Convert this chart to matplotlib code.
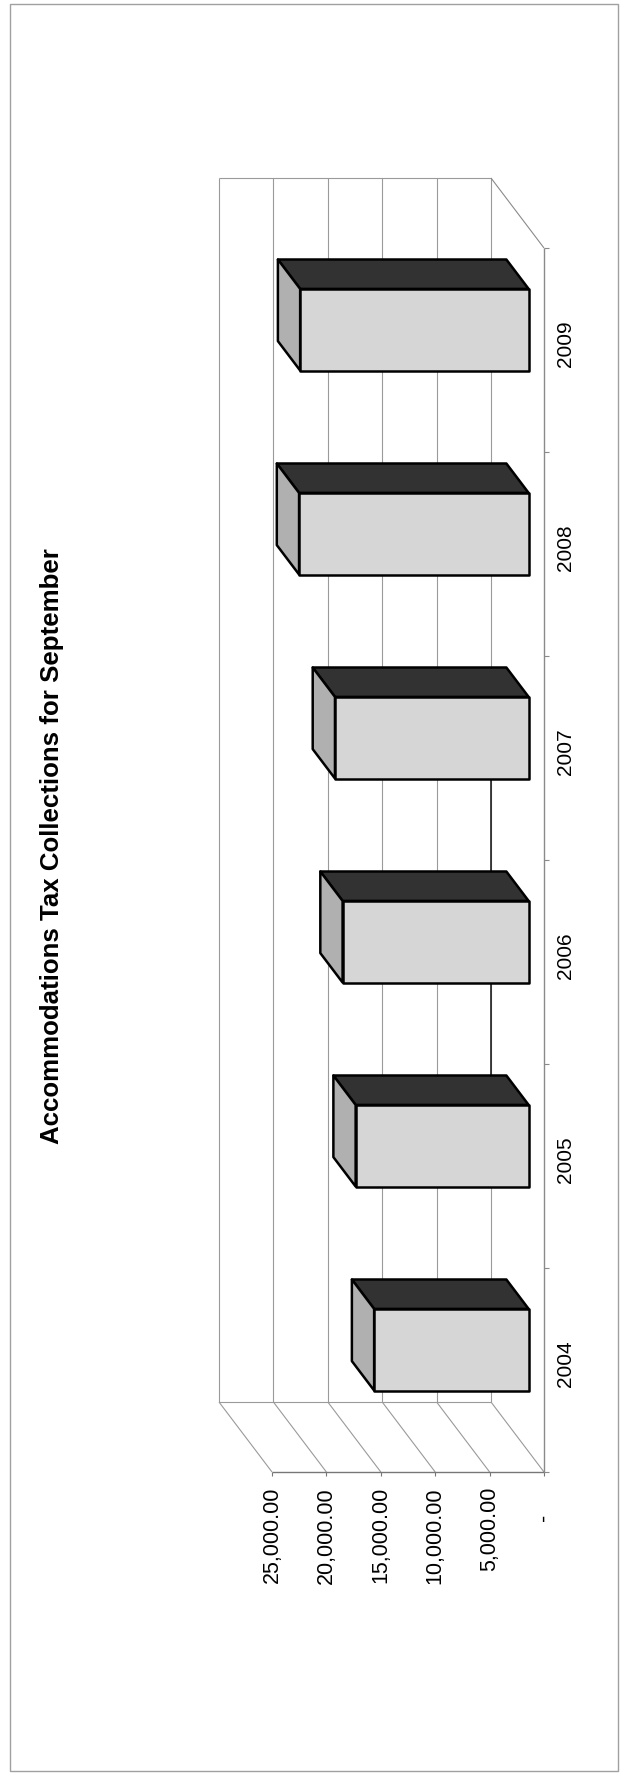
import matplotlib
matplotlib.use('Agg')
from matplotlib import pyplot as plt
from matplotlib.patches import Rectangle

# data
years = ['2004', '2005', '2006', '2007', '2008', '2009']
collections = [14200, 15900, 17100, 17800, 21100, 21000]
tick_values = [5000, 10000, 15000, 20000, 25000]
tick_labels = ['5,000.00', '10,000.00', '15,000.00', '20,000.00', '25,000.00']
title = 'Accommodations Tax Collections for September'

W, H = 621, 1775
plt.rcParams['font.family'] = ['Liberation Sans', 'DejaVu Sans']

# layout of the rotated 3d chart, in pixels
zero_px = 544          # value 0 on the front edge
px_per_unit = 54.4 / 5000
cat_bottom_py = 1472   # lower end of category axis (front)
px_per_cat = 204
depth_px = (53, 70)    # front -> back shift (left, up)

DV = depth_px[0] / px_per_unit
DC = depth_px[1] / px_per_cat
vmax = 25000
ncat = len(years)


def P(v, c, d):
    # value, category, depth (0 front, 1 back) -> data coords
    return v + d * DV, c + d * DC


fig = plt.figure(figsize=(W / 100, H / 100), dpi=100)
ax = fig.add_axes([0, 0, 1, 1])
ax.set_xlim(zero_px / px_per_unit, (zero_px - W) / px_per_unit)
ax.set_ylim(-0.5 - (H - cat_bottom_py) / px_per_cat, -0.5 + cat_bottom_py / px_per_cat)
ax.axis('off')

grid_c = '#9a9a9a'
lw_g = 0.8


def seg(a, b, **kw):
    ax.plot([a[0], b[0]], [a[1], b[1]], solid_capstyle='butt', **kw)


c0, c1 = -0.5, ncat - 0.5
# back wall grid + left wall grid
for v in [0] + tick_values:
    seg(P(v, c0, 1), P(v, c1, 1), color=grid_c, lw=lw_g, zorder=1)
    seg(P(v, c0, 0), P(v, c0, 1), color=grid_c, lw=lw_g, zorder=1)
    seg(P(v, c0, 0), P(v, c0 - 0.02, 0), color='#777777', lw=lw_g, zorder=1)
seg(P(0, 1, 1), P(0, 3, 1), color='#222222', lw=1.2, zorder=1)
seg(P(0, c1, 1), P(vmax, c1, 1), color=grid_c, lw=lw_g, zorder=1)
seg(P(0, c0, 1), P(vmax, c0, 1), color=grid_c, lw=lw_g, zorder=1)
seg(P(0, c0, 0), P(vmax, c0, 0), color='#777777', lw=1.0, zorder=1)
# floor
seg(P(0, c0, 0), P(0, c1, 0), color='#8a8a8a', lw=1.0, zorder=1)
seg(P(0, c1, 0), P(0, c1, 1), color='#8a8a8a', lw=lw_g, zorder=1)
for k in range(ncat + 1):
    seg(P(0, k - 0.5, 0), P(-450, k - 0.5, 0), color='#8a8a8a', lw=lw_g, zorder=1)

# bars
hw = 0.2
d0, d1 = 0.29, 0.71
ek = dict(edgecolor='black', linewidth=1.8, joinstyle='round', zorder=3)
for i, v in enumerate(collections):
    side = [P(0, i + hw, d0), P(v, i + hw, d0), P(v, i + hw, d1), P(0, i + hw, d1)]
    end = [P(v, i - hw, d0), P(v, i + hw, d0), P(v, i + hw, d1), P(v, i - hw, d1)]
    front = [P(0, i - hw, d0), P(v, i - hw, d0), P(v, i + hw, d0), P(0, i + hw, d0)]
    for poly, col in [(side, '#323232'), (end, '#b0b0b0'), (front, '#d6d6d6')]:
        xs, ys = zip(*poly)
        ax.fill(xs, ys, facecolor=col, **ek)

# value axis labels
for v, lab in zip(tick_values, tick_labels):
    ax.text(v, c0 - 15 / px_per_cat, lab, rotation=90, ha='center', va='top', fontsize=15.5)
ax.text(0, c0 - 45 / px_per_cat, '-', rotation=90, ha='center', va='center', fontsize=15.5)

# category labels
for i, y in enumerate(years):
    ax.text(-21 / px_per_unit, i + 0.03, y, rotation=90, ha='center', va='center', fontsize=15)

fig.text(52 / W, 1 - 846 / H, title, rotation=90, ha='center', va='center',
         fontsize=18.6, fontweight='bold')

fig.patches.append(Rectangle((10 / W, 4 / H), 608 / W, 1767 / H, transform=fig.transFigure,
                             fill=False, edgecolor='#a0a0a0', linewidth=1))

fig.savefig('out.png', dpi=100)
